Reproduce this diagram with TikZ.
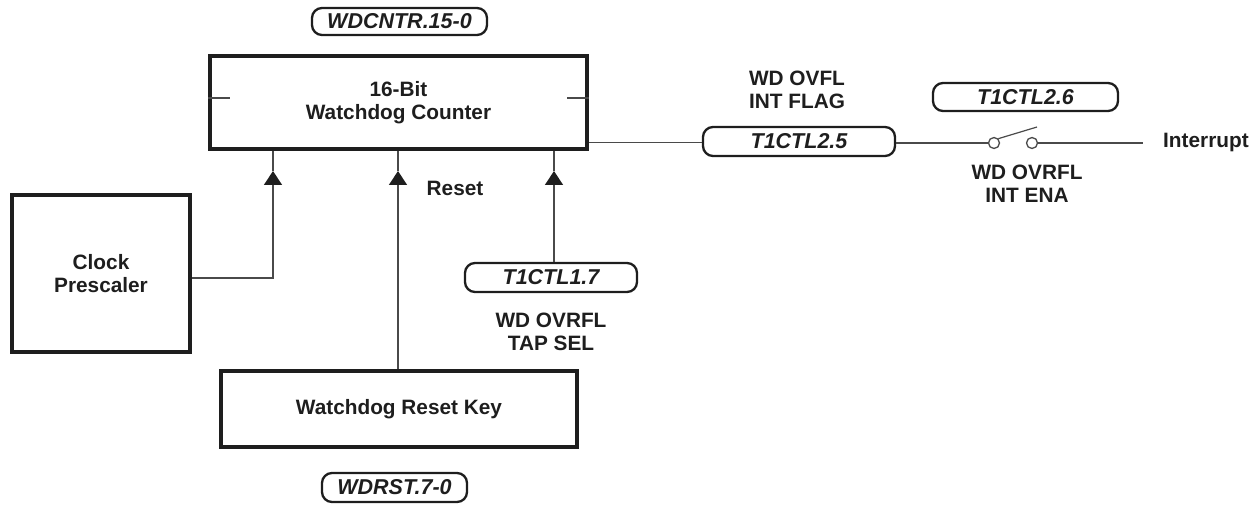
\documentclass[tikz,border=0pt]{standalone}
\usepackage{fontspec}
\setmainfont{Liberation Sans}
\usetikzlibrary{arrows.meta}
\definecolor{ink}{HTML}{1E1E1E}
\definecolor{wire}{HTML}{4A4A4A}
\begin{document}
\begin{tikzpicture}[x=1pt,y=-1pt,
  txt/.style={font=\fontsize{20.8}{23}\selectfont\bfseries, text=ink, align=center, inner sep=0pt},
  block/.style={draw=ink, line width=3.6pt, rectangle, txt},
  pill/.style={draw=ink, line width=2.3pt, rectangle, rounded corners=10pt,
     font=\fontsize{21.5}{24}\selectfont\bfseries\itshape, text=ink, inner sep=0pt},
  wireline/.style={draw=wire, line width=1.4pt},
  arr/.style={wireline, -{Triangle[length=14pt,width=18pt,color=ink]}},
  sw/.style={circle, draw=wire, line width=1.3pt, fill=white, minimum size=11pt, inner sep=0pt}
]
\useasboundingbox (0,0) rectangle (1258,505);

% blocks
\node[block, minimum width=377pt, minimum height=93pt] (cnt) at (398.5,102.5) {16-Bit\\Watchdog Counter};
\node[block, minimum width=178pt, minimum height=157pt] (pre) at (101,273.5) {Clock\\Prescaler};
\node[block, minimum width=356pt, minimum height=76pt] (key) at (399,409) {Watchdog Reset Key};

% inner tick marks of the counter
\draw[wireline, line width=1.2pt] (cnt.west |- 0,98) -- ++(22,0);
\draw[wireline, line width=1.2pt] (cnt.east |- 0,98) -- ++(-22,0);

% register pills
\node[pill, minimum width=175pt, minimum height=27pt] (wdcntr) at (399.5,21.5) {WDCNTR.15-0};
\node[pill, minimum width=192pt, minimum height=29pt] (flag) at (799,141.5) {T1CTL2.5};
\node[pill, minimum width=185pt, minimum height=28pt] (ena) at (1025.5,97) {T1CTL2.6};
\node[pill, minimum width=172pt, minimum height=29pt] (tap) at (551,277.5) {T1CTL1.7};
\node[pill, minimum width=145pt, minimum height=29pt] (rst) at (394.5,487.5) {WDRST.7-0};

% labels
\node[txt] (flaglbl) at (797,90) {WD OVFL\\INT FLAG};
\node[txt] (enalbl) at (1027,184) {WD OVRFL\\INT ENA};
\node[txt] (taplbl) at (551,332) {WD OVRFL\\TAP SEL};
\node[txt] (resetlbl) at (455,188) {Reset};
\node[txt, anchor=west, inner xsep=20pt] (int) at (1143,143) {Interrupt};

% arrow tips
\coordinate (a1) at (273,171);
\coordinate (a2) at (398,171);
\coordinate (a3) at (554,171);

\draw[arr] (pre.east |- 0,278) -| (a1);
\draw[wireline] (a1) -- (a1 |- cnt.south);
\draw[arr] (a2 |- key.north) -- (a2);
\draw[wireline] (a2) -- (a2 |- cnt.south);
\draw[arr] (a3 |- tap.north) -- (a3);
\draw[wireline] (a3) -- (a3 |- cnt.south);

% output path with switch
\node[sw] (s1) at (994,143) {};
\node[sw] (s2) at (1032,143) {};
\coordinate (lever) at (1037,127);
\draw[wireline] (cnt.east |- 0,142.5) -- (flag.west |- 0,142.5);
\draw[wireline] (flag.east |- s1.west) -- (s1.west);
\draw[wireline, line width=1.2pt] (s1.45) -- (lever);
\draw[wireline] (s2.east) -- (int.west);
\end{tikzpicture}
\end{document}
